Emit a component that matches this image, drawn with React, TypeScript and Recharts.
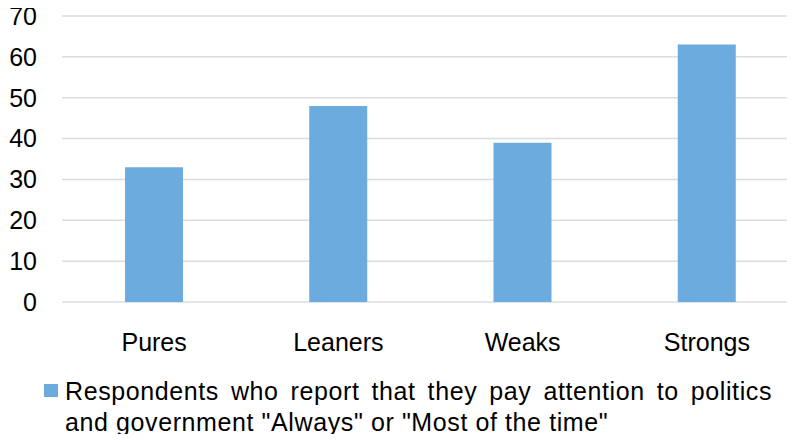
import React from 'react';
import { Bar, BarChart, CartesianGrid, XAxis, YAxis } from 'recharts';

const categories = ['Pures', 'Leaners', 'Weaks', 'Strongs'];
const attentionValues = [33, 48, 39, 63];
const yTicks = [0, 10, 20, 30, 40, 50, 60, 70];
const seriesLabel =
  'Respondents who report that they pay attention to politics and government "Always" or "Most of the time"';

const BAR_COLOR = '#6CABDD';
const FONT = '"Liberation Sans", Arial, sans-serif';

const chartData = categories.map((name, i) => ({ name, value: attentionValues[i] }));

const App: React.FC = () => {
  return (
    <div
      style={{
        position: 'relative',
        margin: -8,
        width: 795,
        height: 442,
        overflow: 'hidden',
        background: '#fff',
        fontFamily: FONT,
      }}
    >
      <BarChart
        width={805}
        height={370}
        data={chartData}
        margin={{ top: 16, right: 6, left: 0, bottom: 8 }}
      >
        <CartesianGrid vertical={false} stroke="#dcdcdc" strokeWidth={1.5} />
        <XAxis
          dataKey="name"
          axisLine={false}
          tickLine={false}
          tickSize={0}
          tickMargin={31}
          height={60}
          tick={{ fontSize: 25, fill: '#000', fontFamily: FONT }}
        />
        <YAxis
          domain={[0, 70]}
          ticks={yTicks}
          axisLine={false}
          tickLine={false}
          tickSize={0}
          tickMargin={25}
          width={62}
          interval={0}
          tick={{ fontSize: 25, fill: '#000', fontFamily: FONT }}
        />
        <Bar dataKey="value" fill={BAR_COLOR} barSize={58} isAnimationActive={false} />
      </BarChart>

      {/* legend */}
      <div
        style={{
          position: 'absolute',
          left: 44,
          top: 384,
          width: 14,
          height: 13,
          background: BAR_COLOR,
        }}
      />
      <div
        style={{
          position: 'absolute',
          left: 65,
          top: 376,
          width: 707,
          fontSize: 25,
          lineHeight: '31px',
          letterSpacing: 0.6,
          textAlign: 'justify',
          color: '#000',
          fontFamily: FONT,
        }}
      >
        {seriesLabel}
      </div>
    </div>
  );
};

export default App;
